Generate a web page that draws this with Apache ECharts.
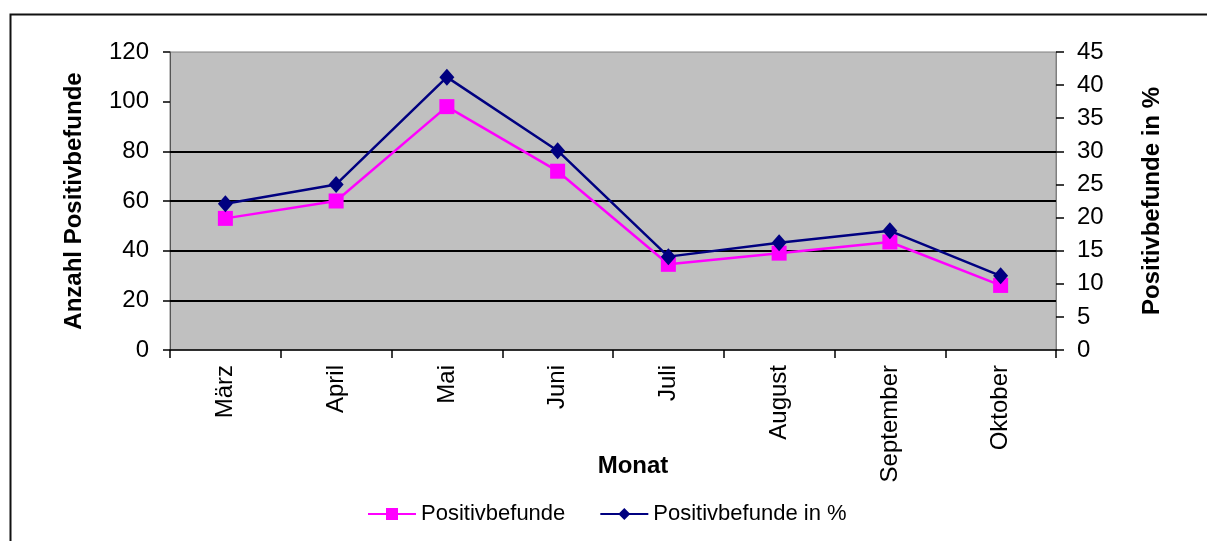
<!DOCTYPE html>
<html>
<head>
<meta charset="utf-8">
<script src="https://cdn.jsdelivr.net/npm/echarts@6/dist/echarts.min.js"></script>
<style>
html,body{margin:0;padding:0;background:#fff;}
#chart{width:1207px;height:541px;}
</style>
</head>
<body>
<div id="chart"></div>
<script>
const categories = ['März','April','Mai','Juni','Juli','August','September','Oktober'];
const positivbefunde = [53, 60, 98, 72, 34.5, 39, 43.5, 26];
const positivbefundeProzent = [22.1, 25, 41.2, 30.1, 14.1, 16.2, 18, 11.2];
const leftTicks = [0, 20, 40, 60, 80, 100, 120];
const rightTicks = [0, 5, 10, 15, 20, 25, 30, 35, 40, 45];
const gridLineValues = [20, 40, 60, 80];

const FONT = "'Liberation Sans', Arial, sans-serif";
const chart = echarts.init(document.getElementById('chart'), null, {renderer: 'canvas'});
chart.setOption({
  backgroundColor: '#ffffff',
  animation: false,
  textStyle: {fontFamily: FONT, color: '#000'},
  graphic: [{
    type: 'polyline',
    shape: {points: [[10.5, 541], [10.5, 14.5], [1207, 14.5]]},
    style: {stroke: '#111', lineWidth: 2, fill: null},
    silent: true
  }],
  grid: {
    left: 170, right: 151, top: 52, bottom: 191,
    show: true, backgroundColor: '#c0c0c0', borderColor: '#808080', borderWidth: 1
  },
  legend: {
    top: 498, left: 362,
    itemWidth: 48, itemHeight: 15, itemGap: 34,
    textStyle: {fontSize: 22, fontFamily: FONT, color: '#000'},
    data: ['Positivbefunde', 'Positivbefunde in %']
  },
  xAxis: {
    type: 'category',
    data: categories,
    boundaryGap: true,
    name: 'Monat',
    nameLocation: 'middle',
    nameGap: 104,
    nameMoveOverlap: false,
    nameTextStyle: {fontSize: 24, fontWeight: 'bold', fontFamily: FONT, color: '#000', padding: [0, 0, 0, 40]},
    axisLine: {lineStyle: {color: '#000', width: 1.5}},
    axisTick: {show: true, length: 8, inside: false, alignWithLabel: false, lineStyle: {color: '#000', width: 1.5}},
    axisLabel: {rotate: 90, margin: 15, fontSize: 24, fontFamily: FONT, color: '#000', interval: 0},
    splitLine: {show: false}
  },
  yAxis: [{
    type: 'value',
    min: leftTicks[0], max: leftTicks[leftTicks.length - 1], interval: 20,
    position: 'left',
    name: 'Anzahl Positivbefunde',
    nameLocation: 'middle',
    nameRotate: 90,
    nameGap: 84,
    nameMoveOverlap: false,
    nameTextStyle: {fontSize: 24, fontWeight: 'bold', fontFamily: FONT, color: '#000'},
    axisLine: {show: true, lineStyle: {color: '#555', width: 1}},
    axisTick: {show: true, length: 7, inside: false, lineStyle: {color: '#000', width: 1.5}},
    axisLabel: {margin: 21, fontSize: 24, fontFamily: FONT, color: '#000'},
    splitLine: {show: false}
  }, {
    type: 'value',
    min: rightTicks[0], max: rightTicks[rightTicks.length - 1], interval: 5,
    position: 'right',
    name: 'Positivbefunde in %',
    nameLocation: 'middle',
    nameRotate: 90,
    nameGap: 84,
    nameMoveOverlap: false,
    nameTextStyle: {fontSize: 24, fontWeight: 'bold', fontFamily: FONT, color: '#000'},
    axisLine: {show: true, lineStyle: {color: '#808080', width: 1}},
    axisTick: {show: true, length: 8, inside: false, lineStyle: {color: '#000', width: 1.5}},
    axisLabel: {margin: 21, fontSize: 24, fontFamily: FONT, color: '#000'},
    splitLine: {show: false}
  }],
  series: [{
    name: 'Positivbefunde',
    type: 'line',
    yAxisIndex: 0,
    data: positivbefunde,
    symbol: 'rect',
    symbolSize: 15,
    itemStyle: {color: '#ff00ff'},
    lineStyle: {color: '#ff00ff', width: 2.5},
    z: 3,
    markLine: {
      silent: true,
      symbol: ['none', 'none'],
      label: {show: false},
      lineStyle: {color: '#000', width: 2, type: 'solid'},
      data: gridLineValues.map(v => ({yAxis: v})),
      z: 1
    }
  }, {
    name: 'Positivbefunde in %',
    type: 'line',
    yAxisIndex: 1,
    data: positivbefundeProzent,
    symbol: 'diamond',
    symbolSize: [15, 17],
    itemStyle: {color: '#000080'},
    lineStyle: {color: '#000080', width: 2.5},
    z: 4
  }]
});
</script>
</body>
</html>
